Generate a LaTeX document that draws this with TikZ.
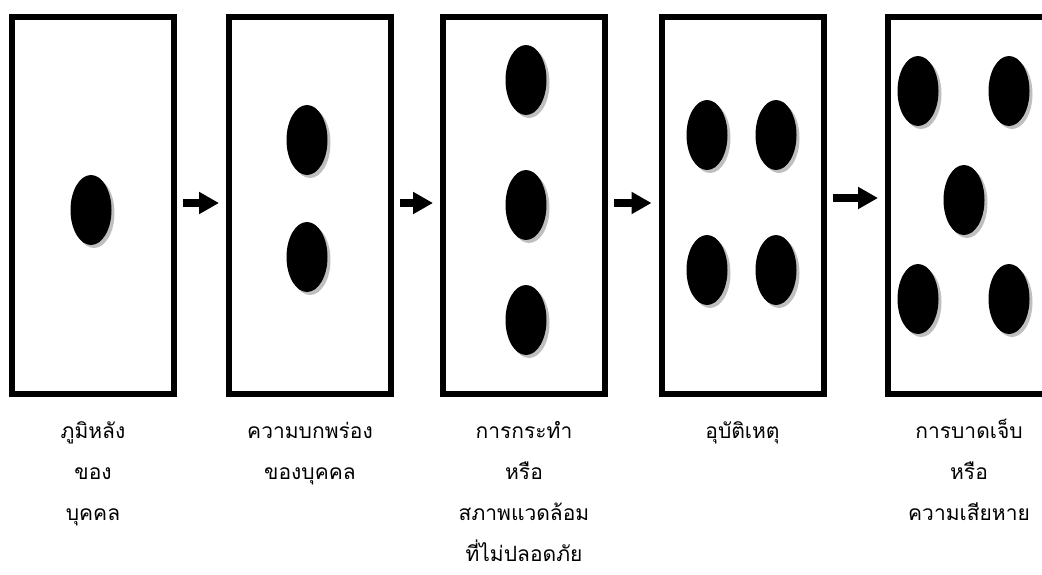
\documentclass[tikz,border=0pt]{standalone}
\usepackage{fontspec}
\newfontfamily\thaifont[Script=Thai]{Loma}
\usetikzlibrary{shapes.geometric,shadows,arrows.meta}
\tikzset{
  box/.style={draw=black, line width=6pt, fill=white, rectangle, minimum width=162pt, minimum height=377pt, inner sep=0pt},
  domino/.style={ellipse, fill=black, minimum width=41pt, minimum height=70pt, inner sep=0pt,
     drop shadow={shadow xshift=3pt, shadow yshift=-3pt, fill=black!25, opacity=1}},
  arr/.style={line width=8pt, -{Triangle[length=20pt,width=21pt]}, shorten <=6pt, shorten >=7pt},
  lbl/.style={font=\thaifont\fontsize{21}{41}\selectfont, align=center, anchor=base, inner sep=0pt}
}
\begin{document}
\begin{tikzpicture}[x=1pt,y=-1pt]
\fill[white] (0,0) rectangle (1042,574);
\useasboundingbox (0,0) rectangle (1042,574);
\clip (0,0) rectangle (1042,574);
% boxes
\node[box] (b1) at (93,205) {};
\node[box] (b2) at (310,205) {};
\node[box] (b3) at (524,205) {};
\node[box] (b4) at (742.5,205) {};
\node[box] (b5) at (969,205) {};
% dominoes
\node[domino] (d11) at (91,210) {};
\node[domino] (d21) at (307,140) {};
\node[domino] (d22) at (307,257) {};
\node[domino] (d31) at (526,80) {};
\node[domino] (d32) at (526,205) {};
\node[domino] (d33) at (526,320) {};
\node[domino] (d41) at (707,135) {};
\node[domino] (d42) at (776,135) {};
\node[domino] (d43) at (707,270) {};
\node[domino] (d44) at (776,270) {};
\node[domino] (d51) at (918,91) {};
\node[domino] (d52) at (1009,91) {};
\node[domino] (d53) at (964,200) {};
\node[domino] (d54) at (918,299) {};
\node[domino] (d55) at (1009,299) {};
% arrows
\draw[arr] ([yshift=2pt]b1.east) -- ([yshift=2pt]b2.west);
\draw[arr] ([yshift=2pt]b2.east) -- ([yshift=2pt]b3.west);
\draw[arr] ([yshift=2pt]b3.east) -- ([yshift=2pt]b4.west);
\draw[arr] ([yshift=7pt]b4.east) -- ([yshift=7pt]b5.west);
% labels (anchor=base is the last line's baseline; first baseline at 438)
\node[lbl] (l1) at (93,520) {ภูมิหลัง\\ของ\\บุคคล};
\node[lbl] (l2) at (310,479) {ความบกพร่อง\\ของบุคคล};
\node[lbl] (l3) at (524,561) {การกระทำ\\หรือ\\สภาพแวดล้อม\\ที่ไม่ปลอดภัย};
\node[lbl] (l4) at (742.5,438) {อุบัติเหตุ};
\node[lbl] (l5) at (969,520) {การบาดเจ็บ\\หรือ\\ความเสียหาย};
\end{tikzpicture}
\end{document}
